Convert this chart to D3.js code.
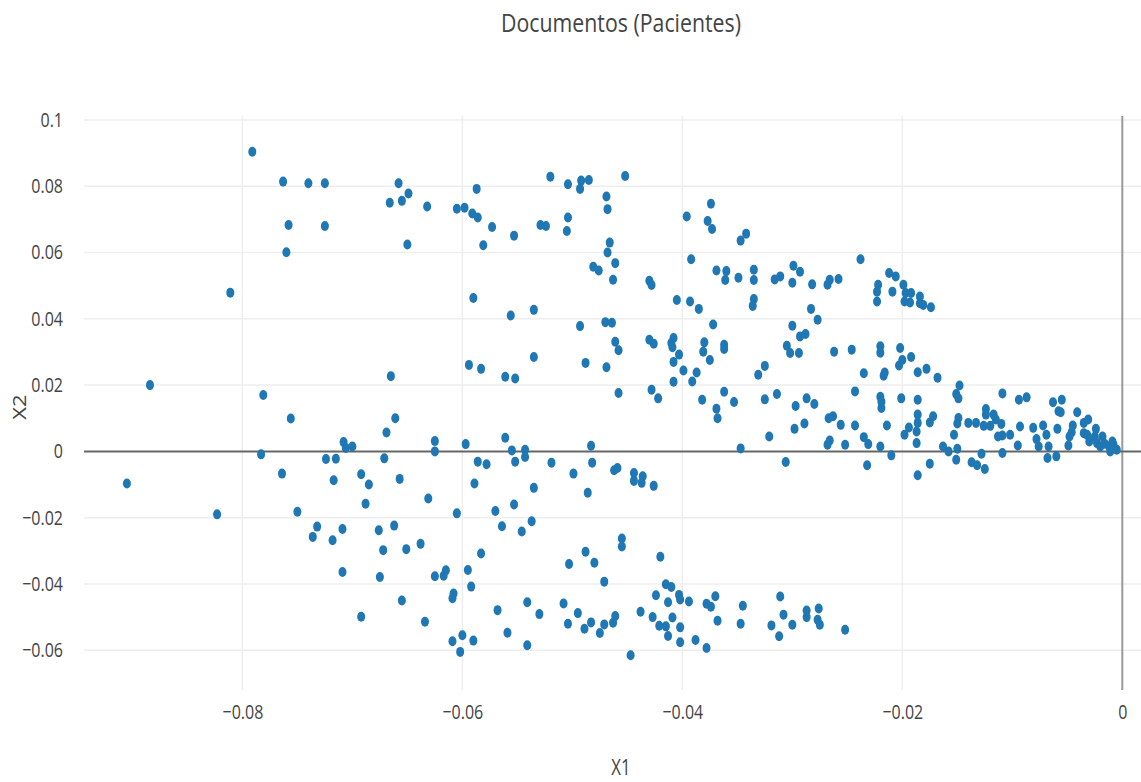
<!DOCTYPE html>
<html>
<head>
<meta charset="utf-8">
<script src="https://cdn.jsdelivr.net/npm/d3@7"></script>
<style>
  html, body { margin: 0; padding: 0; background: #fff; }
  svg { display: block; }
  text { font-family: "Open Sans", "Noto Sans", sans-serif; fill: #444; }
</style>
</head>
<body>
<svg id="chart" width="1141" height="782"></svg>
<script>
const title = "Documentos (Pacientes)";
const xTitle = "X1";
const yTitle = "X2";
const xTicks = [-0.08, -0.06, -0.04, -0.02, 0];
const yTicks = [0.1, 0.08, 0.06, 0.04, 0.02, 0, -0.02, -0.04, -0.06];

const x1 = [
-0.0791,-0.0763,-0.0740,-0.0725,-0.0758,-0.0725,-0.0760,-0.0811,-0.0658,-0.0649,
-0.0666,-0.0655,-0.0632,-0.0650,-0.0605,-0.0598,-0.0587,-0.0591,-0.0586,-0.0573,
-0.0581,-0.0553,-0.0529,-0.0524,-0.0520,-0.0504,-0.0492,-0.0493,-0.0485,-0.0504,
-0.0505,-0.0469,-0.0468,-0.0466,-0.0468,-0.0461,-0.0481,-0.0476,-0.0463,-0.0590,
-0.0535,-0.0452,-0.0374,-0.0396,-0.0377,-0.0373,-0.0342,-0.0347,-0.0392,-0.0238,
-0.0430,-0.0428,-0.0369,-0.0360,-0.0361,-0.0349,-0.0335,-0.0335,-0.0316,-0.0311,
-0.0299,-0.0293,-0.0300,-0.0282,-0.0268,-0.0266,-0.0258,-0.0405,-0.0393,-0.0385,
-0.0335,-0.0336,-0.0222,-0.0223,-0.0223,-0.0283,-0.0277,-0.0212,-0.0206,-0.0209,
-0.0199,-0.0197,-0.0192,-0.0184,-0.0198,-0.0193,-0.0184,-0.0181,-0.0174,-0.0556,
-0.0665,-0.0661,-0.0669,-0.0671,-0.0625,-0.0625,-0.0597,-0.0594,-0.0583,-0.0561,
-0.0552,-0.0535,-0.0561,-0.0555,-0.0543,-0.0543,-0.0586,-0.0578,-0.0552,-0.0519,
-0.0493,-0.0470,-0.0464,-0.0461,-0.0458,-0.0488,-0.0469,-0.0458,-0.0483,-0.0482,
-0.0499,-0.0462,-0.0459,-0.0657,-0.0692,-0.0884,-0.0781,-0.0756,-0.0783,-0.0708,
-0.0706,-0.0700,-0.0724,-0.0715,-0.0764,-0.0372,-0.0300,-0.0293,-0.0288,-0.0430,
-0.0426,-0.0408,-0.0410,-0.0409,-0.0403,-0.0408,-0.0380,-0.0381,-0.0362,-0.0362,
-0.0375,-0.0399,-0.0387,-0.0391,-0.0408,-0.0428,-0.0422,-0.0382,-0.0362,-0.0353,
-0.0369,-0.0368,-0.0331,-0.0325,-0.0305,-0.0302,-0.0294,-0.0262,-0.0246,-0.0235,
-0.0220,-0.0220,-0.0325,-0.0314,-0.0297,-0.0287,-0.0280,-0.0243,-0.0298,-0.0289,
-0.0321,-0.0267,-0.0263,-0.0256,-0.0243,-0.0268,-0.0266,-0.0252,-0.0235,-0.0231,
-0.0347,-0.0220,-0.0219,-0.0219,-0.0220,-0.0306,-0.0232,-0.0444,-0.0444,-0.0436,
-0.0437,-0.0426,-0.0202,-0.0192,-0.0200,-0.0203,-0.0216,-0.0217,-0.0186,-0.0178,
-0.0168,-0.0148,-0.0151,-0.0149,-0.0201,-0.0186,-0.0214,-0.0186,-0.0186,-0.0187,
-0.0187,-0.0175,-0.0172,-0.0194,-0.0198,-0.0210,-0.0149,-0.0150,-0.0153,-0.0140,
-0.0133,-0.0124,-0.0124,-0.0117,-0.0115,-0.0126,-0.0120,-0.0110,-0.0113,-0.0109,
-0.0102,-0.0163,-0.0158,-0.0150,-0.0128,-0.0109,-0.0151,-0.0175,-0.0137,-0.0132,
-0.0125,-0.0186,-0.0109,-0.0094,-0.0087,-0.0093,-0.0095,-0.0081,-0.0078,-0.0076,
-0.0072,-0.0069,-0.0067,-0.0068,-0.0060,-0.0063,-0.0055,-0.0058,-0.0056,-0.0059,
-0.0045,-0.0046,-0.0048,-0.0049,-0.0041,-0.0035,-0.0031,-0.0035,-0.0032,-0.0024,
-0.0025,-0.0030,-0.0023,-0.0018,-0.0016,-0.0012,-0.0009,-0.0008,-0.0005,-0.0011,
-0.0020,-0.0905,-0.0823,-0.0717,-0.0750,-0.0732,-0.0736,-0.0718,-0.0709,-0.0709,
-0.0692,-0.0685,-0.0688,-0.0631,-0.0605,-0.0589,-0.0676,-0.0662,-0.0672,-0.0651,
-0.0638,-0.0675,-0.0625,-0.0617,-0.0615,-0.0595,-0.0583,-0.0592,-0.0608,-0.0609,
-0.0655,-0.0634,-0.0609,-0.0600,-0.0590,-0.0602,-0.0570,-0.0564,-0.0553,-0.0535,
-0.0546,-0.0537,-0.0568,-0.0559,-0.0541,-0.0530,-0.0541,-0.0486,-0.0503,-0.0488,
-0.0480,-0.0471,-0.0508,-0.0495,-0.0504,-0.0489,-0.0483,-0.0475,-0.0471,-0.0463,
-0.0461,-0.0455,-0.0455,-0.0420,-0.0415,-0.0410,-0.0424,-0.0403,-0.0402,-0.0394,
-0.0413,-0.0438,-0.0427,-0.0409,-0.0421,-0.0415,-0.0402,-0.0413,-0.0402,-0.0388,
-0.0378,-0.0378,-0.0374,-0.0370,-0.0368,-0.0345,-0.0347,-0.0447,-0.0311,-0.0308,
-0.0319,-0.0300,-0.0312,-0.0287,-0.0287,-0.0276,-0.0277,-0.0275,-0.0252
];

const x2 = [
0.0904,0.0814,0.0809,0.0809,0.0683,0.0680,0.0601,0.0479,0.0809,0.0778,
0.0750,0.0756,0.0739,0.0624,0.0732,0.0735,0.0792,0.0718,0.0706,0.0677,
0.0622,0.0651,0.0683,0.0680,0.0829,0.0806,0.0817,0.0792,0.0819,0.0706,
0.0665,0.0769,0.0731,0.0630,0.0600,0.0568,0.0557,0.0546,0.0518,0.0463,
0.0427,0.0831,0.0747,0.0709,0.0695,0.0671,0.0657,0.0636,0.0580,0.0580,
0.0515,0.0502,0.0546,0.0544,0.0517,0.0524,0.0548,0.0517,0.0519,0.0528,
0.0560,0.0542,0.0509,0.0504,0.0503,0.0518,0.0520,0.0457,0.0452,0.0430,
0.0460,0.0439,0.0503,0.0482,0.0452,0.0430,0.0397,0.0538,0.0528,0.0482,
0.0503,0.0478,0.0478,0.0467,0.0452,0.0449,0.0447,0.0442,0.0435,0.0410,
0.0227,0.0100,0.0057,-0.0021,0.0031,0.0000,0.0022,0.0261,0.0249,0.0225,
0.0220,0.0285,0.0041,0.0003,0.0005,-0.0017,-0.0031,-0.0039,-0.0031,-0.0034,
0.0378,0.0390,0.0388,0.0331,0.0305,0.0267,0.0254,0.0176,0.0017,-0.0034,
-0.0067,-0.0057,-0.0050,-0.0083,-0.0069,0.0200,0.0170,0.0099,-0.0009,0.0028,
0.0010,0.0015,-0.0023,-0.0022,-0.0067,0.0383,0.0379,0.0347,0.0354,0.0337,
0.0325,0.0342,0.0327,0.0314,0.0292,0.0270,0.0329,0.0301,0.0322,0.0309,
0.0276,0.0244,0.0238,0.0211,0.0210,0.0186,0.0160,0.0156,0.0180,0.0149,
0.0129,0.0100,0.0231,0.0258,0.0319,0.0297,0.0297,0.0301,0.0307,0.0236,
0.0317,0.0298,0.0157,0.0173,0.0137,0.0160,0.0143,0.0181,0.0068,0.0084,
0.0045,0.0100,0.0106,0.0080,0.0078,0.0020,0.0033,0.0020,0.0043,0.0022,
0.0009,0.0165,0.0150,0.0131,0.0015,-0.0032,-0.0042,-0.0065,-0.0089,-0.0075,
-0.0095,-0.0104,0.0312,0.0285,0.0276,0.0259,0.0238,0.0228,0.0239,0.0249,
0.0222,0.0199,0.0173,0.0160,0.0160,0.0156,0.0078,0.0111,0.0086,0.0060,
0.0025,0.0087,0.0106,0.0072,0.0050,-0.0012,0.0101,0.0084,0.0050,0.0086,
0.0086,0.0128,0.0111,0.0111,0.0096,0.0077,0.0077,0.0083,0.0045,0.0048,
0.0050,0.0015,0.0000,0.0008,-0.0007,-0.0005,-0.0025,-0.0037,-0.0033,-0.0042,
-0.0053,-0.0072,0.0175,0.0156,0.0163,0.0075,0.0018,0.0071,0.0037,0.0015,
0.0078,0.0050,0.0015,-0.0020,-0.0015,0.0148,0.0156,0.0121,0.0118,0.0068,
0.0078,0.0058,0.0045,0.0018,0.0118,0.0086,0.0096,0.0055,0.0050,0.0068,
0.0045,0.0030,0.0025,0.0045,0.0023,0.0015,0.0030,0.0020,0.0005,0.0000,
0.0015,-0.0097,-0.0190,-0.0087,-0.0182,-0.0227,-0.0258,-0.0268,-0.0234,-0.0364,
-0.0499,-0.0100,-0.0158,-0.0142,-0.0187,-0.0097,-0.0238,-0.0224,-0.0298,-0.0295,
-0.0279,-0.0379,-0.0377,-0.0375,-0.0359,-0.0358,-0.0308,-0.0408,-0.0429,-0.0443,
-0.0450,-0.0514,-0.0573,-0.0555,-0.0571,-0.0605,-0.0180,-0.0226,-0.0160,-0.0110,
-0.0242,-0.0211,-0.0479,-0.0547,-0.0455,-0.0491,-0.0585,-0.0125,-0.0340,-0.0303,
-0.0336,-0.0393,-0.0459,-0.0488,-0.0520,-0.0535,-0.0516,-0.0548,-0.0522,-0.0517,
-0.0497,-0.0263,-0.0287,-0.0318,-0.0401,-0.0409,-0.0434,-0.0433,-0.0447,-0.0453,
-0.0455,-0.0484,-0.0500,-0.0501,-0.0526,-0.0528,-0.0531,-0.0557,-0.0576,-0.0569,
-0.0593,-0.0460,-0.0469,-0.0437,-0.0511,-0.0466,-0.0520,-0.0615,-0.0438,-0.0493,
-0.0525,-0.0523,-0.0558,-0.0480,-0.0500,-0.0474,-0.0508,-0.0523,-0.0538
];

const points = x1.map((v, i) => ({ x: v, y: x2[i] }));

const svg = d3.select("#chart");
const plot = { left: 84, right: 1141, top: 116, bottom: 690 };
const squeeze = 0.8;

const xScale = d3.scaleLinear().domain([-0.0944, 0.0017]).range([plot.left, plot.right]);
const yScale = d3.scaleLinear().domain([-0.0720, 0.1012]).range([plot.bottom, plot.top]);

const fmt = v => (v === 0 ? "0" : (v < 0 ? "\u2212" + d3.format("")(Math.abs(v)) : d3.format("")(v)));

// grid
const grid = svg.append("g");
grid.selectAll(".gx").data(xTicks.filter(t => t !== 0)).join("line")
  .attr("x1", d => xScale(d)).attr("x2", d => xScale(d))
  .attr("y1", plot.top).attr("y2", plot.bottom)
  .attr("stroke", "#eeeeee").attr("stroke-width", 1.5);
grid.selectAll(".gy").data(yTicks.filter(t => t !== 0)).join("line")
  .attr("x1", plot.left).attr("x2", plot.right)
  .attr("y1", d => yScale(d)).attr("y2", d => yScale(d))
  .attr("stroke", "#eeeeee").attr("stroke-width", 1.5);

// zero lines
svg.append("line")
  .attr("x1", xScale(0)).attr("x2", xScale(0))
  .attr("y1", plot.top).attr("y2", plot.bottom)
  .attr("stroke", "#999").attr("stroke-width", 2);
svg.append("line")
  .attr("x1", plot.left).attr("x2", plot.right)
  .attr("y1", yScale(0)).attr("y2", yScale(0))
  .attr("stroke", "#666").attr("stroke-width", 2);

// axes (labels only)
const xAxis = d3.axisBottom(xScale).tickValues(xTicks).tickFormat(fmt).tickSize(0).tickPadding(15);
const gx = svg.append("g").attr("transform", `translate(0,${plot.bottom})`).call(xAxis);
gx.select(".domain").remove();
gx.selectAll("text").attr("font-size", 20).attr("fill", "#444")
  .style("font-family", '"Open Sans", sans-serif')
  .attr("transform", `scale(${squeeze},1)`);

const yPad = 21;
const yAxis = d3.axisLeft(yScale).tickValues(yTicks).tickFormat(fmt).tickSize(0).tickPadding(yPad);
const gy = svg.append("g").attr("transform", `translate(${plot.left},0)`).call(yAxis);
gy.select(".domain").remove();
gy.selectAll("text").attr("font-size", 20).attr("fill", "#444")
  .style("font-family", '"Open Sans", sans-serif')
  .attr("x", -yPad / squeeze)
  .attr("transform", `scale(${squeeze},1)`);

// points
svg.append("g").selectAll("ellipse").data(points).join("ellipse")
  .attr("cx", d => xScale(d.x)).attr("cy", d => yScale(d.y))
  .attr("rx", 4).attr("ry", 5)
  .attr("fill", "#1f77b4");

// titles
svg.append("text").attr("transform", `translate(621,32) scale(0.82,1)`).attr("text-anchor", "middle")
  .attr("font-size", 26).text(title);
svg.append("text").attr("transform", `translate(621,775) scale(${squeeze},1)`).attr("text-anchor", "middle")
  .attr("font-size", 21).text(xTitle);
svg.append("text").attr("transform", `translate(26,407) rotate(-90) scale(1,${squeeze})`).attr("text-anchor", "middle")
  .attr("font-size", 22).text(yTitle);
</script>
</body>
</html>
